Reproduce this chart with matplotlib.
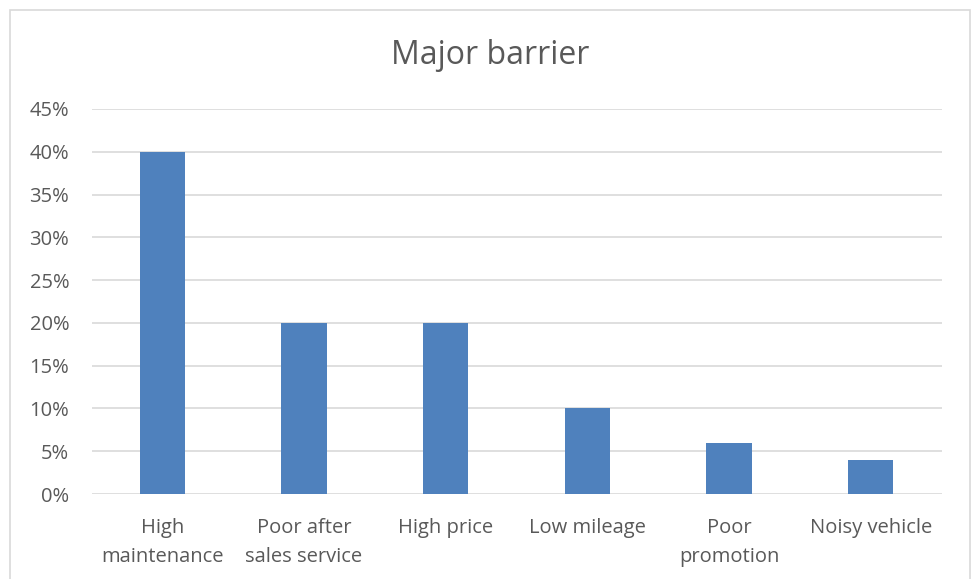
import matplotlib
matplotlib.use("Agg")
import matplotlib.pyplot as plt
from matplotlib.patches import Rectangle
from matplotlib.ticker import FuncFormatter, MultipleLocator

categories = ["High\nmaintenance", "Poor after\nsales service", "High price",
              "Low mileage", "Poor\npromotion", "Noisy vehicle"]
values = [0.40, 0.20, 0.20, 0.10, 0.06, 0.04]
title = "Major barrier"

plt.rcParams['font.family'] = ['Open Sans', 'DejaVu Sans']
txt = '#595959'
grid = '#d9d9d9'

fig = plt.figure(figsize=(9.71, 5.79), dpi=100)
fig.patches.append(Rectangle((10/971, -0.1), 960/971, 1.1 - 10/579, transform=fig.transFigure,
                             fill=False, edgecolor=grid, linewidth=1.2))
ax = fig.add_axes([91.5/971, 1 - 494/579, 850/971, 385/579])
x = range(len(categories))
ax.bar(x, values, width=0.318, color='#4f81bd', zorder=3)
ax.set_xlim(-0.5, len(categories) - 0.5)
ax.set_ylim(0, 0.45)
ax.yaxis.set_major_locator(MultipleLocator(0.05))
ax.yaxis.set_major_formatter(FuncFormatter(lambda v, p: f"{round(v*100)}%"))
ax.grid(axis='y', color=grid, linewidth=1.2, zorder=0)
for s in ax.spines.values():
    s.set_visible(False)
ax.tick_params(axis='both', length=0, labelsize=14.5, colors=txt)
ax.tick_params(axis='y', pad=16)
ax.tick_params(axis='x', pad=17)
ax.set_xticks(list(x))
ax.set_xticklabels(categories, linespacing=1.6)
fig.text(490/971, 1 - 55/579, title, ha='center', va='center',
         fontsize=23, color=txt)
fig.savefig("out.png", dpi=100)
